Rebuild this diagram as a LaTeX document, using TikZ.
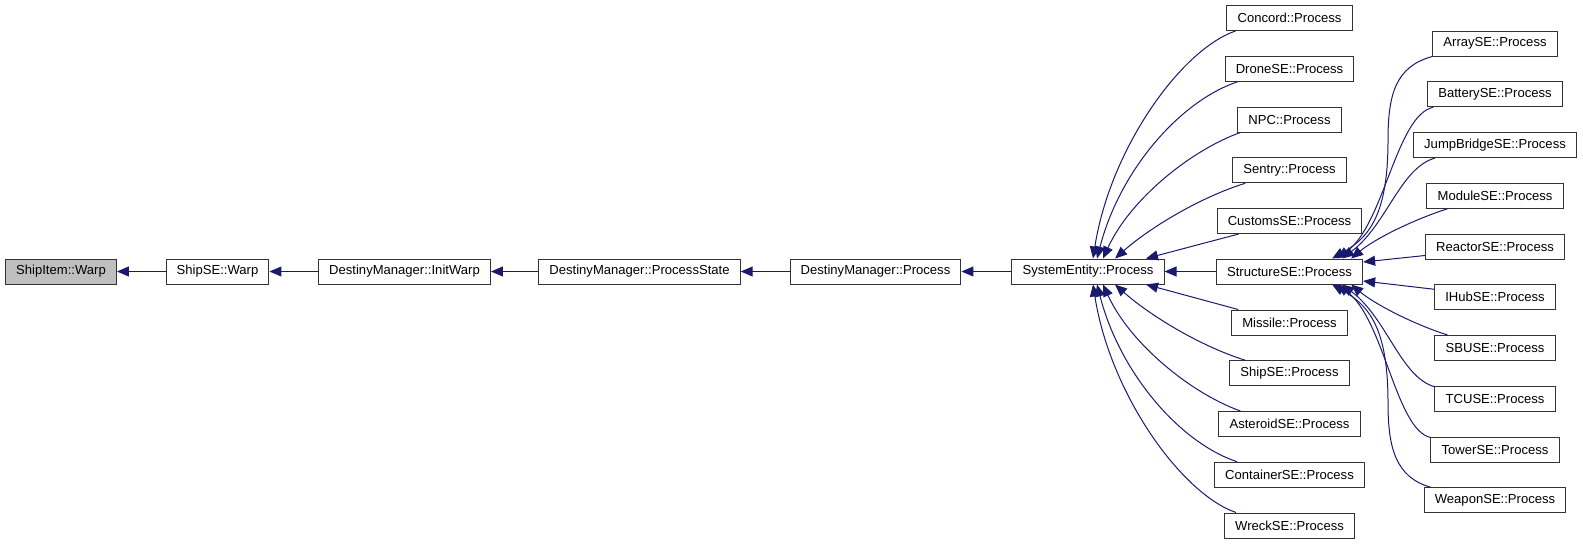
\documentclass[tikz,border=0pt]{standalone}
\usepackage{fontspec}
\setmainfont{Liberation Sans}
\usepackage{xcolor}
\usetikzlibrary{calc,arrows.meta}
\definecolor{edgeblue}{RGB}{25,25,112}
\definecolor{rootgray}{RGB}{191,191,191}

\begin{document}
\begin{tikzpicture}[x=0.75pt, y=-0.75pt, fnbox/.style={rectangle, draw=black!80, line width=0.75pt, fill=white, minimum height=18.75pt, inner xsep=8pt, inner ysep=0pt, font=\fontsize{9.8}{11}\selectfont}]
            \useasboundingbox (0,0) rectangle (1583,544);
            \node[fnbox, fill=rootgray] (shipitem) at (61,271.5) {ShipItem::Warp};
            \node[fnbox] (shipsewarp) at (217.5,271.5) {ShipSE::Warp};
            \node[fnbox] (initwarp) at (404.5,271.5) {DestinyManager::InitWarp};
            \node[fnbox] (procstate) at (639.5,271.5) {DestinyManager::ProcessState};
            \node[fnbox] (dmprocess) at (875.5,271.5) {DestinyManager::Process};
            \node[fnbox] (seprocess) at (1088,271.5) {SystemEntity::Process};
            \node[fnbox] (concord) at (1289.5,18) {Concord::Process};
            \node[fnbox] (drone) at (1289.5,68.75) {DroneSE::Process};
            \node[fnbox] (npc) at (1289.5,119.5) {NPC::Process};
            \node[fnbox] (sentry) at (1289.5,170.25) {Sentry::Process};
            \node[fnbox] (customs) at (1289.5,221) {CustomsSE::Process};
            \node[fnbox] (structure) at (1289.5,271.5) {StructureSE::Process};
            \node[fnbox] (missile) at (1289.5,322.5) {Missile::Process};
            \node[fnbox] (shipseproc) at (1289.5,373.25) {ShipSE::Process};
            \node[fnbox] (asteroid) at (1289.5,424) {AsteroidSE::Process};
            \node[fnbox] (container) at (1289.5,474.75) {ContainerSE::Process};
            \node[fnbox] (wreck) at (1289.5,525.5) {WreckSE::Process};
            \node[fnbox] (array) at (1495,43.5) {ArraySE::Process};
            \node[fnbox] (battery) at (1495,94.25) {BatterySE::Process};
            \node[fnbox] (jumpbridge) at (1495,145) {JumpBridgeSE::Process};
            \node[fnbox] (module) at (1495,195.75) {ModuleSE::Process};
            \node[fnbox] (reactor) at (1495,246.5) {ReactorSE::Process};
            \node[fnbox] (ihub) at (1495,297.25) {IHubSE::Process};
            \node[fnbox] (sbuse) at (1495,348) {SBUSE::Process};
            \node[fnbox] (tcuse) at (1495,398.75) {TCUSE::Process};
            \node[fnbox] (tower) at (1495,449.5) {TowerSE::Process};
            \node[fnbox] (weapon) at (1495,500.25) {WeaponSE::Process};
            \coordinate (arraybend) at (1388,140);
            \coordinate (weaponbend) at (1388,403);

            \tikzset{call/.style={-{Triangle[length=9pt,width=7.5pt]}, draw=edgeblue, line width=0.75pt}}

            \draw[call] (shipsewarp) -- (shipitem);
            \draw[call] (initwarp) -- (shipsewarp);
            \draw[call] (procstate) -- (initwarp);
            \draw[call] (dmprocess) -- (procstate);
            \draw[call] (seprocess) -- (dmprocess);
            \draw[call] (structure) -- (seprocess);

            \draw[call] ($(concord.south west)+(9,0)$) .. controls +(-55,19) and +(17,-109) .. ($(seprocess.north)+(5,0)$);
            \draw[call] ($(drone.south west)+(13,0)$) .. controls +(-57,19) and +(23,-89) .. ($(seprocess.north)+(9,0)$);
            \draw[call] ($(npc.south west)+(3,0)$) .. controls +(-50,18) and +(27,-59) .. ($(seprocess.north)+(15,0)$);
            \draw[call] ($(sentry.south west)+(13,0)$) .. controls +(-45,14) and +(35,-31) .. ($(seprocess.north)+(27,0)$);
            \draw[call] ($(customs.south west)+(22,0)$) -- ($(seprocess.north)+(58,0)$);
            \draw[call] ($(missile.north west)+(7,0)$) -- ($(seprocess.south)+(58,0)$);
            \draw[call] ($(shipseproc.north west)+(16,0)$) .. controls +(-45,-14) and +(35,31) .. ($(seprocess.south)+(27,0)$);
            \draw[call] ($(asteroid.north west)+(22,0)$) .. controls +(-50,-18) and +(27,59) .. ($(seprocess.south)+(15,0)$);
            \draw[call] ($(container.north west)+(23,0)$) .. controls +(-57,-19) and +(23,89) .. ($(seprocess.south)+(9,0)$);
            \draw[call] ($(wreck.north west)+(12,0)$) .. controls +(-55,-19) and +(17,109) .. ($(seprocess.south)+(5,0)$);

            \draw[call] (array.south west) .. controls +(-37,10) and +(0,-45) .. (arraybend) .. controls +(0,75) and +(37,-21) .. ($(structure.north east)+(-31,0)$);
            \draw[call] ($(battery.south west)+(6,0)$) .. controls +(-37,8) and +(47,-34) .. ($(structure.north east)+(-26,0)$);
            \draw[call] ($(jumpbridge.south west)+(22,0)$) .. controls +(-35,10) and +(45,-34) .. ($(structure.north east)+(-21,0)$);
            \draw[call] ($(module.south west)+(21,0)$) .. controls +(-37,12) and +(23,-19) .. ($(structure.north east)+(-12,0)$);
            \draw[call] ($(reactor.south west)+(0,-4)$) -- ($(structure.east)+(0,-9.5)$);
            \draw[call] ($(ihub.north west)+(0,5)$) -- ($(structure.east)+(0,9.5)$);
            \draw[call] ($(sbuse.north west)+(13,0)$) .. controls +(-37,-12) and +(23,19) .. ($(structure.south east)+(-12,0)$);
            \draw[call] ($(tcuse.north west)+(0,1)$) .. controls +(-34,-10) and +(45,34) .. ($(structure.south east)+(-21,0)$);
            \draw[call] ($(tower.north west)+(0,1)$) .. controls +(-35,-8) and +(47,34) .. ($(structure.south east)+(-26,0)$);
            \draw[call] ($(weapon.north west)+(7,0)$) .. controls +(-35,-10) and +(0,45) .. (weaponbend) .. controls +(0,-75) and +(37,21) .. ($(structure.south east)+(-31,0)$);

        \end{tikzpicture}
\end{document}
